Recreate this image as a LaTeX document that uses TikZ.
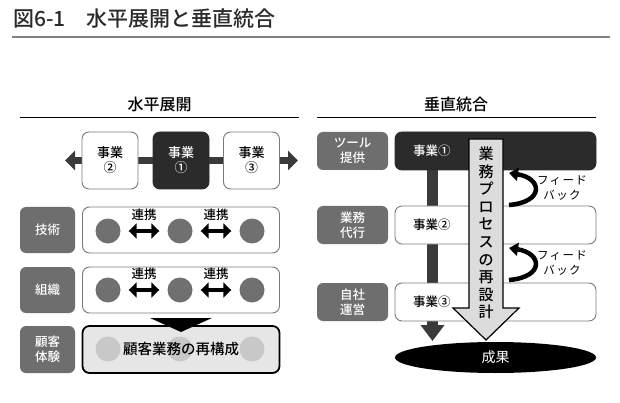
\documentclass[tikz,border=0pt]{standalone}
\usepackage{fontspec}
\setmainfont{Noto Sans CJK JP}[BoldFont={Noto Sans CJK JP Medium}]
\usetikzlibrary{arrows.meta,backgrounds,positioning,shapes.geometric}
\definecolor{labgray}{HTML}{6E6E6E}
\definecolor{boxgray}{HTML}{7A7A7A}
\definecolor{dotgray}{HTML}{707070}
\definecolor{darkbox}{HTML}{2B2B2B}
\definecolor{bargray}{HTML}{3A3A3A}
\definecolor{lightfill}{HTML}{E6E6E6}
\definecolor{lightdot}{HTML}{C8C8C8}
\definecolor{procfill}{HTML}{DCDCDC}
\definecolor{titlegray}{HTML}{2A2A2A}
\begin{document}
\begin{tikzpicture}[x=1pt,y=-1pt,
  lab/.style={fill=labgray, text=white, rounded corners=6pt, align=center, inner sep=0pt, font=\bfseries\fontsize{12.5}{15}\selectfont},
  biz/.style={draw=boxgray, fill=white, line width=0.9pt, rounded corners=7pt, minimum width=56pt, minimum height=57pt, align=center, font=\bfseries\fontsize{13}{15}\selectfont},
  rowbox/.style={draw=boxgray, fill=white, line width=0.9pt, rounded corners=7pt, minimum width=197pt, minimum height=46pt},
  rbox/.style={draw=boxgray, fill=white, line width=0.9pt, rounded corners=7pt, minimum width=201pt, minimum height=38pt},
  dot/.style={circle, fill=dotgray, minimum size=25pt, inner sep=0pt},
  link/.style={line width=4.5pt, {Triangle[width=15pt,length=8pt]}-{Triangle[width=15pt,length=8pt]}, shorten <=8pt, shorten >=8pt},
  linktxt/.style={midway, above=5pt, font=\bfseries\fontsize{12.5}{14}\selectfont},
  fback/.style={line width=4.5pt, -{Triangle[width=13pt,length=9pt]}},
  fbtxt/.style={align=center, font=\fontsize{11.5}{15}\selectfont\addfontfeature{LetterSpace=12}},
  btxt/.style={font=\bfseries\fontsize{12.5}{15}\selectfont}]
\useasboundingbox (0,0) rectangle (620,403);
\begin{pgfonlayer}{background}
  \fill[white] (0,0) rectangle (620,403);
\end{pgfonlayer}

% title
\node[anchor=base west, inner sep=0pt, text=titlegray, font=\bfseries\fontsize{21}{21}\selectfont] (title) at (13,27) {図6-1　水平展開と垂直統合};
\draw[gray, line width=1.5pt] (12,37) -- (610,37);

% headers
\node[font=\bfseries\fontsize{16}{16}\selectfont] (hleft) at (159.5,104) {水平展開};
\node[font=\bfseries\fontsize{16}{16}\selectfont] (hright) at (456,104) {垂直統合};
\draw[line width=0.9pt] (20,117) -- (299,117);
\draw[line width=0.9pt] (317,117) -- (596,117);

% left: business units
\node[biz] (t2) at (110,160.5) {事業\\②};
\node[biz, fill=darkbox, draw=darkbox, text=white] (t1) at (181,160.5) {事業\\①};
\node[biz] (t3) at (251.5,160.5) {事業\\③};
\coordinate (hl) at (65,160.5);
\coordinate (hr) at (298,160.5);
\begin{pgfonlayer}{background}
  \draw[bargray, line width=7pt, {Triangle[width=19pt,length=10pt]}-{Triangle[width=19pt,length=10pt]}] (hl) -- (hr);
\end{pgfonlayer}

% left: rows
\node[lab, minimum width=55pt, minimum height=46pt] (lab1) at (47.5,230) {技術};
\node[lab, minimum width=55pt, minimum height=46pt] (lab2) at (47.5,290) {組織};
\node[lab, minimum width=55pt, minimum height=47pt] (lab3) at (47.5,349.5) {顧客\\体験};

\node[rowbox] (row1) at (181,230) {};
\node[rowbox] (row2) at (181,290) {};
\node[rowbox, draw=black, line width=1.8pt, fill=lightfill, minimum height=47pt] (row3) at (181,349.5) {};

\foreach \r/\y in {1/231,2/290} {
  \node[dot] (c\r1) at (108,\y) {};
  \node[dot] (c\r2) at (180,\y) {};
  \node[dot] (c\r3) at (252,\y) {};
  \draw[link] (c\r1) -- (c\r2) node[linktxt] {連携};
  \draw[link] (c\r2) -- (c\r3) node[linktxt] {連携};
}
\node[dot, fill=lightdot] (c31) at (108,349) {};
\node[dot, fill=lightdot] (c32) at (180,349) {};
\node[dot, fill=lightdot] (c33) at (252,349) {};
\node[font=\bfseries\fontsize{14.5}{16}\selectfont] (redo) at (row3) {顧客業務の再構成};

\fill (150,318) -- (212,318) -- (181,332) -- cycle;

% right: vertical integration
\node[lab, minimum width=71pt, minimum height=38pt] (rl1) at (352.5,151) {ツール\\提供};
\node[lab, minimum width=71pt, minimum height=38pt] (rl2) at (352.5,225) {業務\\代行};
\node[lab, minimum width=71pt, minimum height=38pt] (rl3) at (352.5,302) {自社\\運営};

\node[rbox, fill=darkbox, draw=darkbox] (r1) at (495.5,151) {};
\node[rbox] (r2) at (495.5,225) {};
\node[rbox] (r3) at (495.5,302) {};
\node[btxt, text=white, right=15pt of r1.west] (n1) {事業①};
\node[btxt, right=15pt of r2.west] (n2) {事業②};
\node[btxt, right=15pt of r3.west] (n3) {事業③};

\node[ellipse, fill=black, text=white, minimum width=201pt, minimum height=31pt, font=\fontsize{14}{14}\selectfont] (goal) at (495.5,357.5) {成果};

\coordinate (vtop) at (432.5,165);
\coordinate (vend) at (432.5,341);
\begin{pgfonlayer}{background}
  \draw[bargray, line width=11pt, -{Triangle[width=23pt,length=16pt]}] (vtop) -- (vend);
\end{pgfonlayer}

% process arrow
\filldraw[fill=procfill, draw=black, line width=1.2pt] (469,139) -- (503,139) -- (503,308) -- (519,308) -- (486,340) -- (453,308) -- (469,308) -- cycle;
\node[font=\bfseries\fontsize{15}{17.6}\selectfont, align=center] (proc) at (486,233) {業\\務\\プ\\ロ\\セ\\ス\\の\\再\\設\\計};

% feedback
\coordinate (fa1) at (509,205);
\coordinate (fb1) at (509,173);
\coordinate (fa2) at (509,280);
\coordinate (fb2) at (509,248);
\draw[fback] (fa1) .. controls (545,202) and (542,178) .. (fb1);
\draw[fback] (fa2) .. controls (545,277) and (542,253) .. (fb2);
\node[fbtxt] (fbl1) at (562,188) {フィード\\バック};
\node[fbtxt] (fbl2) at (562,263) {フィード\\バック};
\end{tikzpicture}
\end{document}
